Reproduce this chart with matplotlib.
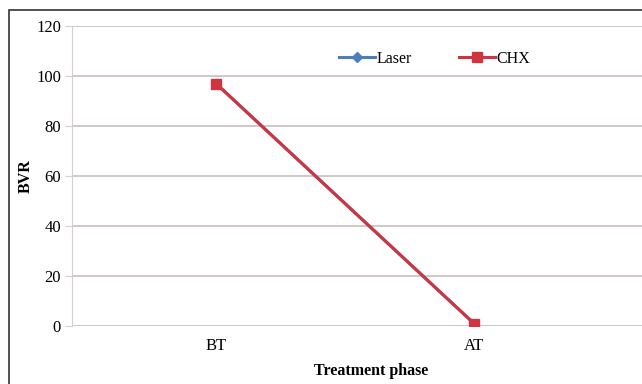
import matplotlib
import matplotlib.pyplot as plt
from matplotlib.patches import Rectangle

matplotlib.use("Agg")

phases = ["BT", "AT"]
laser = [97, 1]
chx = [97, 1]
y_ticks = [0, 20, 40, 60, 80, 100, 120]

W, H = 642, 384
plt.rcParams["font.family"] = ["Liberation Serif", "DejaVu Serif"]

fig = plt.figure(figsize=(W / 100, H / 100), dpi=100)

# outer frame (cropped on the right and bottom)
fig.patches.append(Rectangle((9 / W, -0.1), 1.2, 1 - 10 / H + 0.1,
                             transform=fig.transFigure, fill=False,
                             edgecolor="#333333", linewidth=1.2))

left, right, top, bottom = 72, 670, 26, 326
ax = fig.add_axes([left / W, 1 - bottom / H, (right - left) / W, (bottom - top) / H])

x = list(range(len(phases)))
ax.plot(x, laser, color="#4a7ebb", marker="D", markersize=5, linewidth=2.2, label="Laser")
ax.plot(x, chx, color="#d0353f", marker="s", markersize=7, linewidth=2.2, label="CHX")

px = 258
ax.set_xlim(-(216 - left) / px, (right - 216) / px)
ax.set_ylim(0, 120)
ax.set_yticks(y_ticks)
ax.set_xticks(x)
ax.set_xticklabels(phases)
ax.grid(True, axis="y", color="#cdc3c1", linewidth=1.3)
ax.set_axisbelow(True)
for s in ["top", "right", "bottom"]:
    ax.spines[s].set_visible(False)
ax.spines["left"].set_color("#d6cfcd")
ax.tick_params(axis="y", length=5, color="#d6cfcd", labelsize=12, pad=3)
ax.tick_params(axis="x", length=0, labelsize=12, pad=9)

ax.set_xlabel("Treatment phase", fontweight="bold", fontsize=11.5, labelpad=6)
ax.set_ylabel("BVR", fontweight="bold", fontsize=11.5, labelpad=2)

ax.legend(loc="upper left", bbox_to_anchor=((325 - left) / (right - left), 0.965),
          ncol=2, frameon=False, fontsize=11.5, handlelength=2.2,
          handletextpad=0.1, columnspacing=3.0)

fig.savefig("out.png", dpi=100)
plt.close(fig)
